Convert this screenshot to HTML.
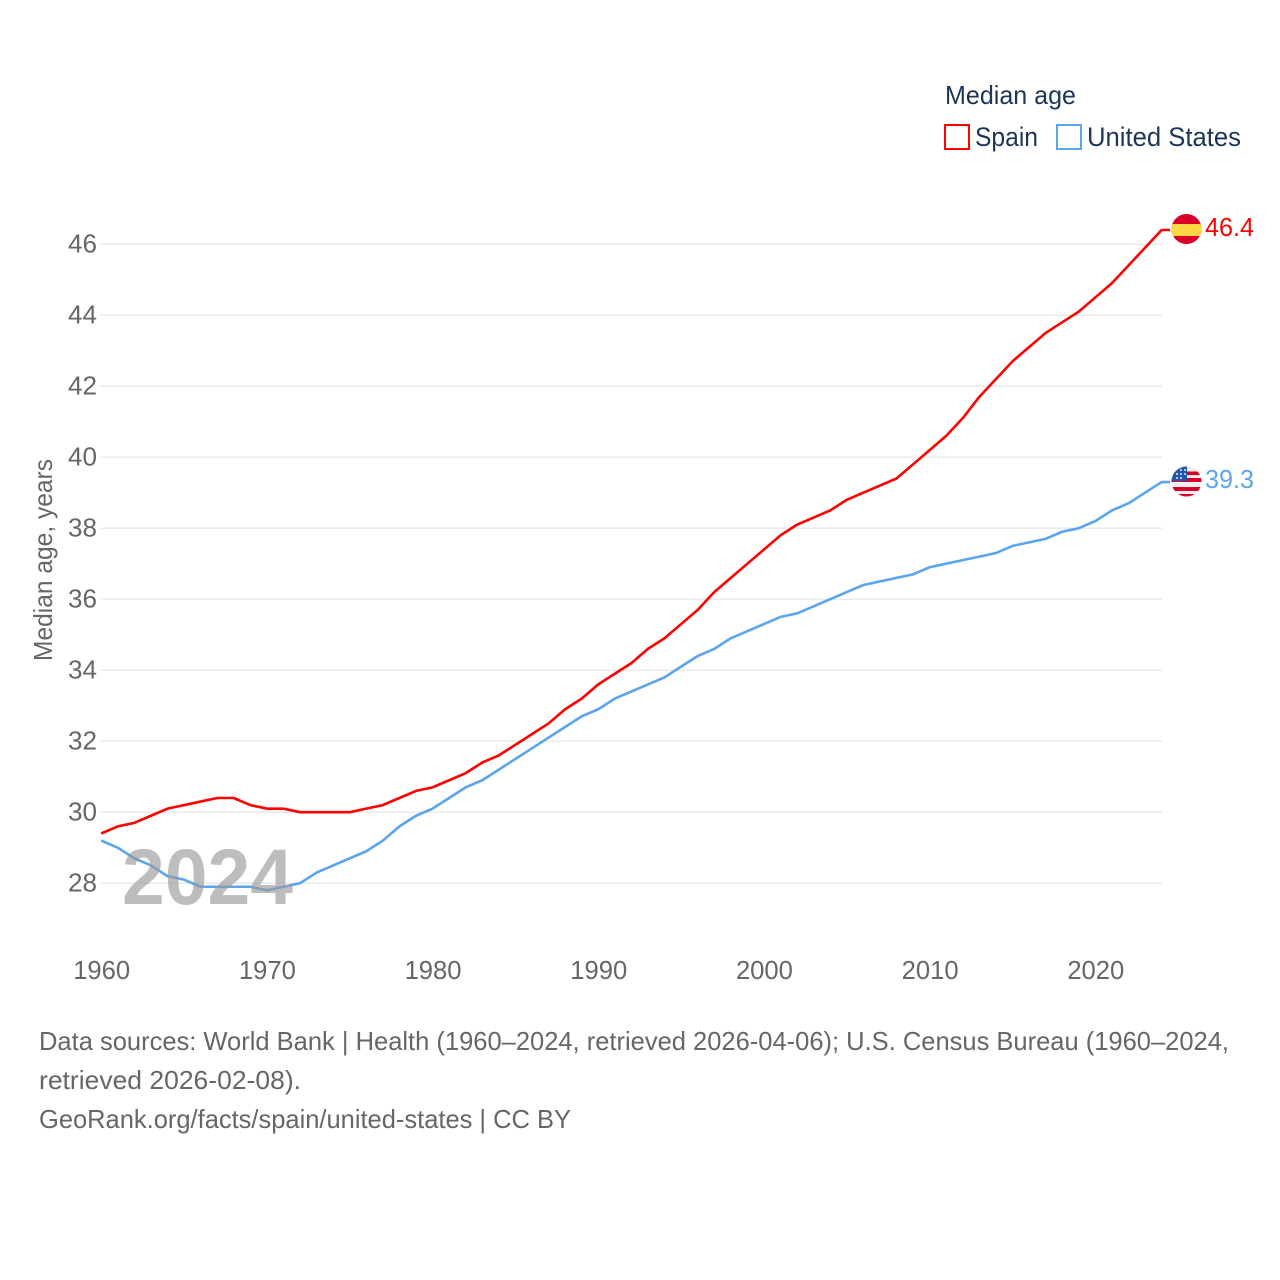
<!DOCTYPE html>
<html lang="en">
<head>
<meta charset="utf-8">
<title>Median age: Spain and United States</title>
<style>
html,body{margin:0;padding:0;background:#fff;width:1280px;height:1280px;overflow:hidden}
svg{display:block}
text{font-family:"Liberation Sans",sans-serif}
</style>
</head>
<body>
<svg id="chart" xmlns="http://www.w3.org/2000/svg" width="1280" height="1280" viewBox="0 0 1280 1280">
  <defs>
    <clipPath id="clip-es"><circle cx="1186.5" cy="229" r="15"/></clipPath>
    <clipPath id="clip-us"><circle cx="1186.5" cy="481.5" r="15"/></clipPath>
  </defs>
  <rect width="1280" height="1280" fill="#fff"/>
  <g id="grid"></g>
  <g id="yticks"></g>
  <g id="xticks"></g>
  <g id="series"></g>

  <text transform="translate(52,661) rotate(-90)" font-size="26" fill="#666" textLength="202" lengthAdjust="spacingAndGlyphs">Median age, years</text>
  <text x="122" y="904" font-size="79" font-weight="700" fill="#9a9a9a" fill-opacity="0.65" textLength="171" lengthAdjust="spacingAndGlyphs">2024</text>

  <g>
    <text x="945" y="104" font-size="26" fill="#1d3557" textLength="131" lengthAdjust="spacingAndGlyphs">Median age</text>
    <rect x="945" y="125" width="24" height="24" fill="none" stroke="#ff0000" stroke-width="2"/>
    <text x="975" y="146" font-size="27" fill="#1d3557" textLength="63" lengthAdjust="spacingAndGlyphs">Spain</text>
    <rect x="1057" y="125" width="24" height="24" fill="none" stroke="#5ba4ee" stroke-width="2"/>
    <text x="1087" y="146" font-size="27" fill="#1d3557" textLength="154" lengthAdjust="spacingAndGlyphs">United States</text>
  </g>

  <g clip-path="url(#clip-es)">
    <rect x="1171" y="214" width="31" height="30" fill="#d8002a"/>
    <rect x="1171" y="224" width="31" height="12" fill="#ffd744"/>
  </g>
  <g clip-path="url(#clip-us)">
    <rect x="1171" y="466" width="31" height="31" fill="#f0f0f0"/>
    <rect x="1171" y="471.5" width="31" height="3.6" fill="#d8002a"/>
    <rect x="1171" y="478" width="31" height="4" fill="#d8002a"/>
    <rect x="1171" y="487" width="31" height="4" fill="#d8002a"/>
    <rect x="1171" y="494" width="31" height="4" fill="#d8002a"/>
    <rect x="1171" y="466" width="16" height="15" fill="#1f56b0"/>
    <path d="M1176 474h2M1180 474h2M1184 474h2M1176 478h2M1180 478h2M1180 470h2M1184 470h2" stroke="#eef" stroke-width="1.6"/>
  </g>
  <text id="end-spain" x="1205" y="236" font-size="26" fill="#ff0000" textLength="49" lengthAdjust="spacingAndGlyphs"></text>
  <text id="end-us" x="1205" y="488" font-size="26" fill="#5ba4ee" textLength="49" lengthAdjust="spacingAndGlyphs"></text>

  <g>
    <text x="39" y="1050" font-size="26" fill="#666" textLength="1190" lengthAdjust="spacingAndGlyphs">Data sources: World Bank | Health (1960–2024, retrieved 2026-04-06); U.S. Census Bureau (1960–2024,</text>
    <text x="39" y="1089" font-size="26" fill="#666" textLength="262" lengthAdjust="spacingAndGlyphs">retrieved 2026-02-08).</text>
    <text x="39" y="1128" font-size="26" fill="#666" textLength="532" lengthAdjust="spacingAndGlyphs">GeoRank.org/facts/spain/united-states | CC BY</text>
  </g>
</svg>
<script>
const years = [1960,1961,1962,1963,1964,1965,1966,1967,1968,1969,1970,1971,1972,1973,1974,1975,1976,1977,1978,1979,1980,1981,1982,1983,1984,1985,1986,1987,1988,1989,1990,1991,1992,1993,1994,1995,1996,1997,1998,1999,2000,2001,2002,2003,2004,2005,2006,2007,2008,2009,2010,2011,2012,2013,2014,2015,2016,2017,2018,2019,2020,2021,2022,2023,2024];
const spainValues = [29.4,29.6,29.7,29.9,30.1,30.2,30.3,30.4,30.4,30.2,30.1,30.1,30.0,30.0,30.0,30.0,30.1,30.2,30.4,30.6,30.7,30.9,31.1,31.4,31.6,31.9,32.2,32.5,32.9,33.2,33.6,33.9,34.2,34.6,34.9,35.3,35.7,36.2,36.6,37.0,37.4,37.8,38.1,38.3,38.5,38.8,39.0,39.2,39.4,39.8,40.2,40.6,41.1,41.7,42.2,42.7,43.1,43.5,43.8,44.1,44.5,44.9,45.4,45.9,46.4];
const usValues = [29.2,29.0,28.7,28.5,28.2,28.1,27.9,27.9,27.9,27.9,27.8,27.9,28.0,28.3,28.5,28.7,28.9,29.2,29.6,29.9,30.1,30.4,30.7,30.9,31.2,31.5,31.8,32.1,32.4,32.7,32.9,33.2,33.4,33.6,33.8,34.1,34.4,34.6,34.9,35.1,35.3,35.5,35.6,35.8,36.0,36.2,36.4,36.5,36.6,36.7,36.9,37.0,37.1,37.2,37.3,37.5,37.6,37.7,37.9,38.0,38.2,38.5,38.7,39.0,39.3];
const yTickValues = [28,30,32,34,36,38,40,42,44,46];
const xTickValues = [1960,1970,1980,1990,2000,2010,2020];

const NS = 'http://www.w3.org/2000/svg';
function xScale(year){ return 101.2 + (year - 1960) * (1161.6 - 101.2) / 64; }
function yScale(value){ return 883.2 - (value - 28) * (883.2 - 244.2) / 18; }

const gridGroup = document.getElementById('grid');
const yGroup = document.getElementById('yticks');
const xGroup = document.getElementById('xticks');
const seriesGroup = document.getElementById('series');

yTickValues.forEach(function(v){
  const line = document.createElementNS(NS, 'line');
  
  
  line.setAttribute('x1', 101);
  line.setAttribute('x2', 1162);
  line.setAttribute('y1', yScale(v));
  line.setAttribute('y2', yScale(v));
  line.setAttribute('stroke', '#e8e8e8');
  line.setAttribute('stroke-width', '1.4');
  gridGroup.appendChild(line);

  const label = document.createElementNS(NS, 'text');
  
  
  label.setAttribute('x', 68);
  label.setAttribute('y', yScale(v) + 8.3);
  label.setAttribute('font-size', '26');
  label.setAttribute('fill', '#666');
  label.setAttribute('textLength', '29');
  label.setAttribute('lengthAdjust', 'spacingAndGlyphs');
  label.textContent = String(v);
  yGroup.appendChild(label);
});

xTickValues.forEach(function(y){
  const label = document.createElementNS(NS, 'text');
  
  
  label.setAttribute('x', xScale(y) - 28);
  label.setAttribute('y', 979);
  label.setAttribute('font-size', '26');
  label.setAttribute('fill', '#666');
  label.setAttribute('textLength', '57');
  label.setAttribute('lengthAdjust', 'spacingAndGlyphs');
  label.textContent = String(y);
  xGroup.appendChild(label);
});

function drawSeries(values, color, name){
  const pts = values.map(function(v, i){ return xScale(years[i]).toFixed(2) + ',' + yScale(v).toFixed(2); });
  const last = values[values.length - 1];
  pts.push('1170,' + yScale(last).toFixed(2));
  const line = document.createElementNS(NS, 'polyline');
  
  
  line.setAttribute('points', pts.join(' '));
  line.setAttribute('fill', 'none');
  line.setAttribute('stroke', color);
  line.setAttribute('stroke-width', '2.6');
  line.setAttribute('stroke-linejoin', 'round');
  seriesGroup.appendChild(line);
}
drawSeries(usValues, '#5ba4ee', 'line-united-states');
drawSeries(spainValues, '#ff0000', 'line-spain');

document.getElementById('end-spain').textContent = spainValues[spainValues.length - 1].toFixed(1);
document.getElementById('end-us').textContent = usValues[usValues.length - 1].toFixed(1);
</script>
</body>
</html>
